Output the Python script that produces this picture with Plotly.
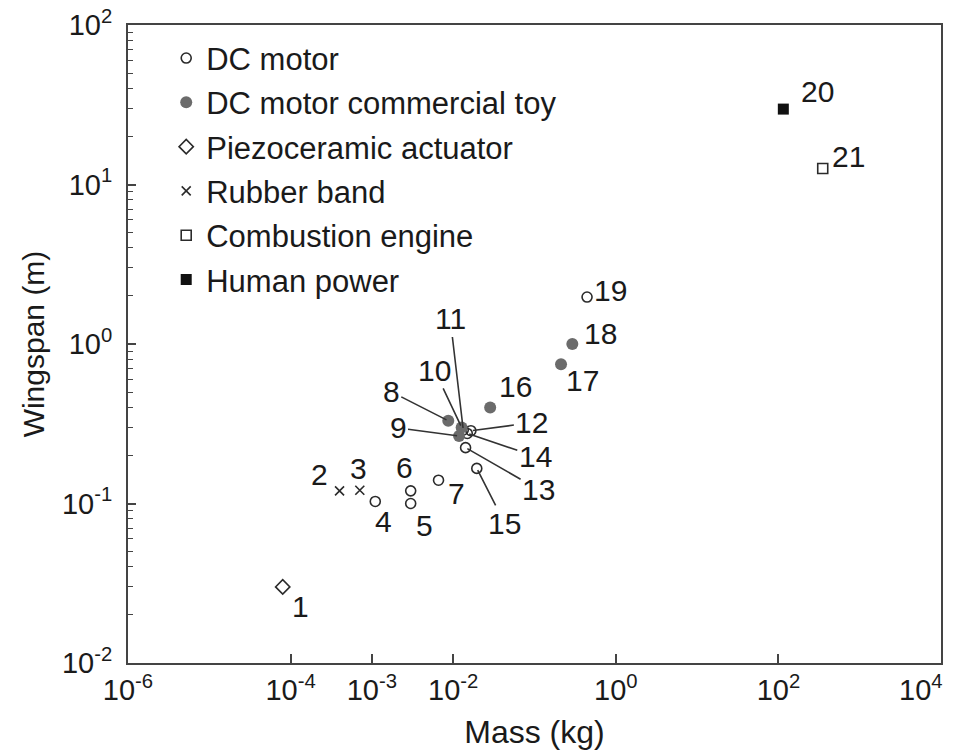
import math
import plotly.graph_objects as go

# ---------------- data ----------------
point_id = [1, 2, 3, 4, 5, 6, 7, 8, 9, 10, 11, 12, 13, 14, 15, 16, 17, 18, 19, 20, 21]
mass_kg = [8.0e-5, 4.0e-4, 7.1e-4, 1.1e-3, 3.0e-3, 3.0e-3, 6.6e-3, 8.7e-3, 1.18e-2, 1.27e-2,
           1.33e-2, 1.65e-2, 1.42e-2, 1.49e-2, 1.95e-2, 2.85e-2, 0.212, 0.292, 0.443, 115, 351]
wingspan_m = [0.030, 0.120, 0.121, 0.103, 0.100, 0.120, 0.140, 0.330, 0.265, 0.300,
              0.289, 0.286, 0.224, 0.275, 0.166, 0.400, 0.746, 1.00, 1.97, 29.7, 12.6]
category = ["Piezoceramic actuator", "Rubber band", "Rubber band", "DC motor", "DC motor",
            "DC motor", "DC motor", "DC motor commercial toy", "DC motor commercial toy",
            "DC motor commercial toy", "DC motor", "DC motor", "DC motor", "DC motor",
            "DC motor", "DC motor commercial toy", "DC motor commercial toy",
            "DC motor commercial toy", "DC motor", "Human power", "Combustion engine"]
legend_order = ["DC motor", "DC motor commercial toy", "Piezoceramic actuator",
                "Rubber band", "Combustion engine", "Human power"]

x_tick_vals = [1e-6, 1e-4, 1e-3, 1e-2, 1e0, 1e2, 1e4]
x_tick_text = ["10<sup>-6</sup>", "10<sup>-4</sup>", "10<sup>-3</sup>", "10<sup>-2</sup>",
               "10<sup>0</sup>", "10<sup>2</sup>", "10<sup>4</sup>&nbsp;&nbsp;&nbsp;&nbsp;&nbsp;"]
y_tick_vals = [1e-2, 1e-1, 1e0, 1e1, 1e2]
y_tick_text = ["10<sup>-2</sup>", "10<sup>-1</sup>", "10<sup>0</sup>", "10<sup>1</sup>", "10<sup>2</sup>"]

# ---------------- styles ----------------
INK = "#2b2b2b"
styles = {
    "DC motor": dict(symbol="circle-open", size=10, color=INK, line=dict(width=1.6, color=INK)),
    "DC motor commercial toy": dict(symbol="circle", size=12, color="#6b6b6b", line=dict(width=0)),
    "Piezoceramic actuator": dict(symbol="diamond-open", size=11, color=INK, line=dict(width=1.6, color=INK)),
    "Rubber band": dict(symbol="x-thin-open", size=9, color=INK, line=dict(width=1.6, color=INK)),
    "Combustion engine": dict(symbol="square-open", size=10, color=INK, line=dict(width=1.6, color=INK)),
    "Human power": dict(symbol="square", size=11, color="#111111", line=dict(width=0)),
}

# label placement: (dx, dy) in pixels relative to the point (dy down positive), and leader line flag
label_pos = {
    1: (18, 20, False), 2: (-20, -16, False), 3: (-1, -22, False), 4: (8, 20, False),
    5: (14, 22, False), 6: (-6, -23, False), 7: (18, 13, False),
    8: (-57, -29, True), 9: (-61, -8, True), 10: (-27, -57, True), 11: (-13, -111, True),
    12: (61, -8, True), 13: (73, 42, True), 14: (68, 23, True), 15: (28, 55, True),
    16: (25, -21, False), 17: (21, 16, False), 18: (28, -11, False), 19: (23, -7, False),
    20: (34, -18, False), 21: (26, -12, False),
}

fig = go.Figure()
for gi, cat in enumerate(legend_order):
    xs = [m for m, c in zip(mass_kg, category) if c == cat]
    ys = [w for w, c in zip(wingspan_m, category) if c == cat]
    fig.add_trace(go.Scatter(x=xs, y=ys, mode="markers", name=cat, marker=styles[cat],
                             legendgroup=f"g{gi}", cliponaxis=False))

LABEL_FONT = dict(family="Liberation Sans, Arial, sans-serif", size=30, color="#1a1a1a")
for pid, m, w in zip(point_id, mass_kg, wingspan_m):
    dx, dy, line = label_pos[pid]
    lx, ly = math.log10(m), math.log10(w)  # annotation coordinates on log axes
    if line:
        fig.add_annotation(x=lx, y=ly, xref="x", yref="y", text=str(pid), showarrow=True,
                           arrowhead=0, arrowwidth=1.6, arrowcolor="#333", ax=dx, ay=dy,
                           font=LABEL_FONT, standoff=2)
    else:
        fig.add_annotation(x=lx, y=ly, xref="x", yref="y", text=str(pid), showarrow=False,
                           xshift=dx, yshift=-dy, font=LABEL_FONT)

NARROW = "Liberation Sans Narrow, Arial Narrow, Liberation Sans, sans-serif"
fig.update_xaxes(type="log", range=[-6, 4], tickvals=x_tick_vals, ticktext=x_tick_text,
                 ticks="inside", ticklen=9, tickwidth=1.5, tickcolor="#444",
                 showline=True, linecolor="#444", linewidth=2, mirror=True,
                 showgrid=False, zeroline=False, ticklabeloverflow="allow",
                 tickfont=dict(family=NARROW, size=29, color="#1a1a1a"),
                 title=dict(text="Mass (kg)", font=dict(family=NARROW, size=32, color="#1a1a1a"),
                            standoff=16))
fig.update_yaxes(type="log", range=[-2, 2], tickvals=y_tick_vals, ticktext=y_tick_text,
                 ticks="inside", ticklen=8, tickwidth=1.5, tickcolor="#444",
                 minor=dict(ticks="inside", ticklen=5, tickwidth=1.2, tickcolor="#444",
                            dtick="D1", showgrid=False),
                 showline=True, linecolor="#444", linewidth=2, mirror=True,
                 showgrid=False, zeroline=False, ticklabelstandoff=8, ticklabeloverflow="allow",
                 tickfont=dict(family="Liberation Sans, Arial, sans-serif", size=29, color="#1a1a1a"),
                 title=dict(text="Wingspan (m)", font=dict(family=NARROW, size=30, color="#1a1a1a"),
                            standoff=8))

fig.update_layout(
    width=950, height=743,
    margin=dict(l=120, r=17, t=17, b=88, autoexpand=False),
    paper_bgcolor="white", plot_bgcolor="white",
    legend=dict(x=0.047, y=0.99, xanchor="left", yanchor="top", bgcolor="rgba(0,0,0,0)",
                font=dict(family="Liberation Sans, Arial, sans-serif", size=31, color="#1a1a1a"),
                tracegroupgap=1, itemwidth=30),
    showlegend=True,
)

fig.write_html("out.html")
